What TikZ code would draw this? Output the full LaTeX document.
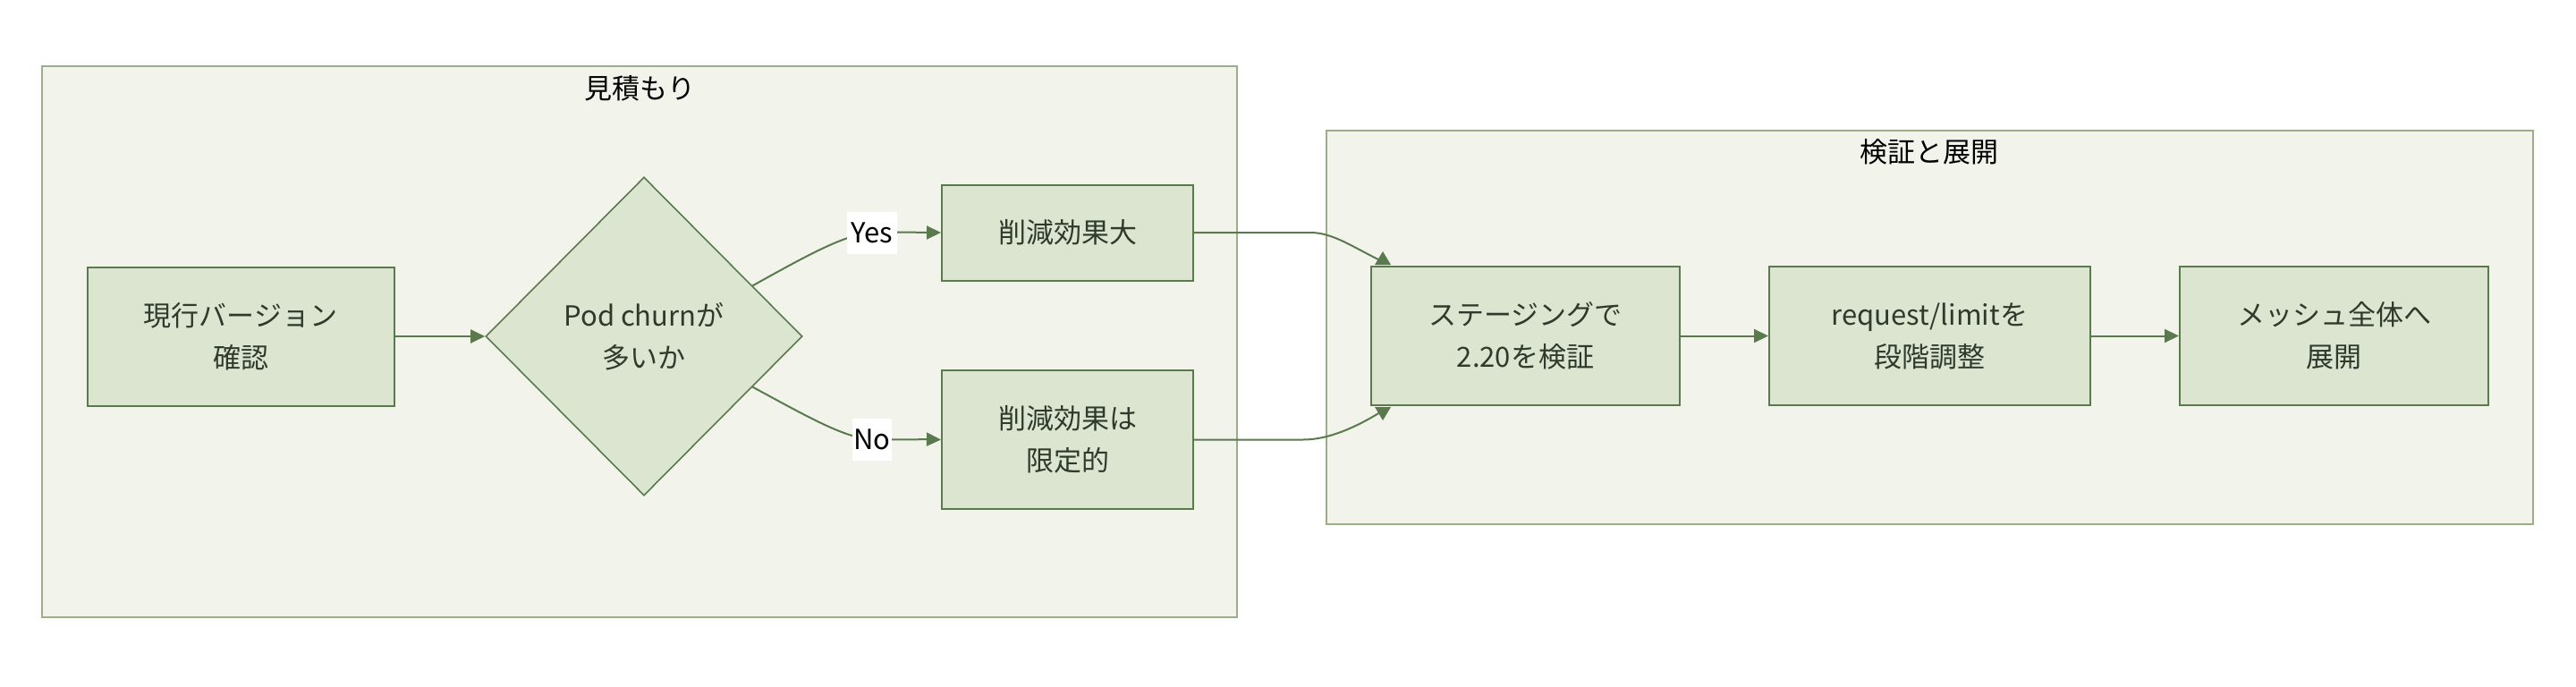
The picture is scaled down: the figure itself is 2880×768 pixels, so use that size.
\documentclass[tikz,border=0pt]{standalone}
\usepackage{fontspec}
\setmainfont{Noto Sans CJK JP}
\usetikzlibrary{shapes.geometric,arrows.meta}
\definecolor{clfill}{HTML}{F2F4EC}
\definecolor{cldraw}{HTML}{9AAF88}
\definecolor{ndfill}{HTML}{DCE5D0}
\definecolor{nddraw}{HTML}{5A7A4E}
\definecolor{txt}{HTML}{2F3A2C}
\begin{document}
\begin{tikzpicture}[x=1pt,y=-1pt,
  every node/.style={font=\fontsize{31}{47}\selectfont, text=txt},
  cluster/.style={fill=clfill, draw=cldraw, line width=2pt},
  ctitle/.style={text=black, font=\fontsize{31}{40}\selectfont},
  box/.style={rectangle, fill=ndfill, draw=nddraw, line width=2pt, align=center, inner sep=0pt},
  dec/.style={diamond, fill=ndfill, draw=nddraw, line width=1.6pt, align=center, inner sep=0pt, minimum width=354pt, minimum height=356pt},
  edge/.style={draw=nddraw, line width=2pt, -{Triangle[length=16pt,width=15pt]}},
  plainedge/.style={draw=nddraw, line width=2pt},
  tiphead/.style={fill=nddraw},
  lbl/.style={fill=white, inner sep=0pt, minimum width=56pt, minimum height=47pt, text=black}
]
\useasboundingbox (0,0) rectangle (2880,768);
\fill[white] (0,0) rectangle (2880,768);
% clusters
\draw[cluster] (47,74) rectangle (1383,690);
\draw[cluster] (1483,146) rectangle (2832,586);
\node[ctitle] (t1) at (715,99) {見積もり};
\node[ctitle] (t2) at (2157,170) {検証と展開};
% nodes
\node[box, minimum width=343pt, minimum height=155pt] (cur) at (269,376) {現行バージョン\\確認};
\node[dec] (q) at (720,376) {Pod churnが\\多いか};
\node[box, minimum width=281pt, minimum height=107pt] (big) at (1193.5,260) {削減効果大};
\node[box, minimum width=281pt, minimum height=155pt] (lim) at (1193.5,491.5) {削減効果は\\限定的};
\node[box, minimum width=345pt, minimum height=155pt] (stg) at (1705.5,375.5) {ステージングで\\2.20を検証};
\node[box, minimum width=359pt, minimum height=155pt] (req) at (2157.5,375.5) {request/limitを\\段階調整};
\node[box, minimum width=345pt, minimum height=155pt] (mesh) at (2609.5,375.5) {メッシュ全体へ\\展開};
% edges
\coordinate (yc) at (975,260);
\coordinate (nc) at (975,491);
\coordinate (tin) at (1543,291);
\coordinate (bin) at (1543,461);
\draw[edge] (cur.east) -- (q.west);
\draw[edge] (q.25) .. controls (905,284) and (945,262) .. (yc) .. controls (1010,259) and (1030,260) .. (big.west);
\draw[edge] (q.-25) .. controls (905,467) and (945,490) .. (nc) .. controls (1010,492) and (1030,491) .. (lim.west);
\node[lbl] (yes) at (yc) {Yes};
\node[lbl, minimum width=44pt] (no) at (nc) {No};
\draw[plainedge] (big.east) -- ++(130,0) .. controls (1490,260) and (1512,276) .. (tin);
\draw[plainedge] (lim.east) -- ++(122,0) .. controls (1485,491.5) and (1515,478) .. (bin);
\fill[tiphead] ([xshift=5pt,yshift=1pt]stg.north west) -- ++(9,-15) -- ++(9,15) -- cycle;
\fill[tiphead] ([xshift=5pt,yshift=-1pt]stg.south west) -- ++(9,15) -- ++(9,-15) -- cycle;
\draw[edge] (stg.east) -- (req.west);
\draw[edge] (req.east) -- (mesh.west);
\end{tikzpicture}
\end{document}
